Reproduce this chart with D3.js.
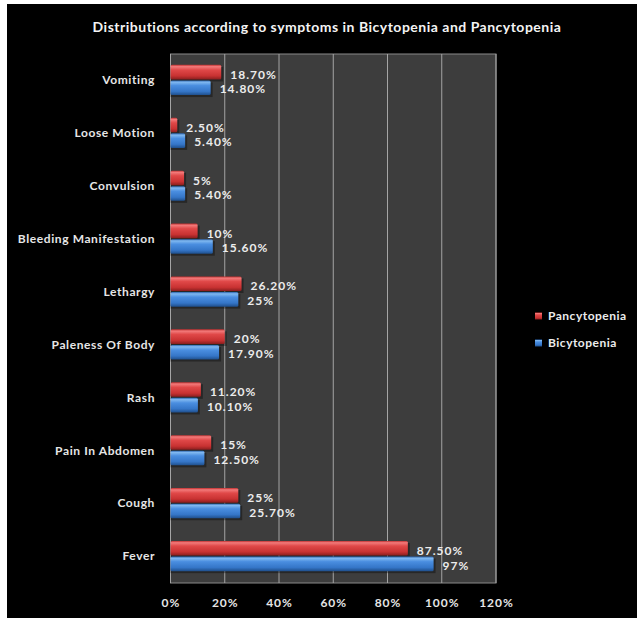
<!DOCTYPE html>
<html><head><meta charset="utf-8">
<script src="https://cdn.jsdelivr.net/npm/d3@7"></script>
<style>
html,body{margin:0;padding:0;background:#fff;}
svg{display:block;}
</style></head>
<body>
<script>
const categories = ["Vomiting","Loose Motion","Convulsion","Bleeding Manifestation","Lethargy","Paleness Of Body","Rash","Pain In Abdomen","Cough","Fever"];
const seriesNames = ["Pancytopenia","Bicytopenia"];
const pancytopenia = [18.7,2.5,5,10,26.2,20,11.2,15,25,87.5];
const bicytopenia = [14.8,5.4,5.4,15.6,25,17.9,10.1,12.5,25.7,97];
const pancyLabels = ["18.70%","2.50%","5%","10%","26.20%","20%","11.20%","15%","25%","87.50%"];
const bicyLabels = ["14.80%","5.40%","5.40%","15.60%","25%","17.90%","10.10%","12.50%","25.70%","97%"];
const xTicks = [0,20,40,60,80,100,120];
const title = "Distributions according to symptoms in Bicytopenia and Pancytopenia";

(function(){
const W=637,H=618;
const svg=d3.select("body").append("svg").attr("width",W).attr("height",H);
const font="Lato, 'Open Sans', sans-serif";

svg.append("rect").attr("width",W).attr("height",H).attr("fill","#fff");
svg.append("rect").attr("x",7).attr("y",4).attr("width",W-7).attr("height",H-4).attr("fill","#000");

const defs=svg.append("defs");
function grad(id,stops){
  const g=defs.append("linearGradient").attr("id",id).attr("x1",0).attr("y1",0).attr("x2",0).attr("y2",1);
  stops.forEach(s=>g.append("stop").attr("offset",s[0]).attr("stop-color",s[1]));
}
grad("gRed",[[0,"#c03030"],[0.12,"#f27a7a"],[0.35,"#e04848"],[0.75,"#c83232"],[1,"#8a1e1e"]]);
grad("gBlue",[[0,"#2c66b0"],[0.12,"#80b8f0"],[0.35,"#4a8ee0"],[0.75,"#3576c8"],[1,"#1f4f8c"]]);

const pL=170.5,pR=496,pT=54,pB=583;
const x=d3.scaleLinear().domain([0,120]).range([pL,pR]);
const y=d3.scaleBand().domain(categories).range([pT,pB]).paddingInner(0.41).paddingOuter(0.205);
const ys=d3.scaleBand().domain(seriesNames).range([0,y.bandwidth()]);

svg.append("rect").attr("x",pL).attr("y",pT).attr("width",pR-pL).attr("height",pB-pT)
  .attr("fill","#3d3d3d").attr("stroke","#8a8a8a").attr("stroke-width",1);

svg.append("g").selectAll("line").data(xTicks).join("line")
  .attr("x1",d=>x(d)).attr("x2",d=>x(d)).attr("y1",pT).attr("y2",pB)
  .attr("stroke","#a5a5a5").attr("stroke-width",1);

const xAxis=d3.axisBottom(x).tickValues(xTicks).tickFormat(d=>d+"%").tickSize(0).tickPadding(0);
const gx=svg.append("g").attr("transform",`translate(0,${pB+15})`).call(xAxis);
gx.select(".domain").remove();
gx.selectAll("text").attr("fill","#e6e6e6").attr("font-family",font).attr("font-weight","bold").attr("font-size","12px").attr("letter-spacing","1px").attr("dy","0.71em");

const yAxis=d3.axisLeft(y).tickSize(0).tickPadding(0);
const gy=svg.append("g").attr("transform",`translate(155,0)`).call(yAxis);
gy.select(".domain").remove();
gy.selectAll("text").attr("fill","#e6e6e6").attr("font-family",font).attr("font-weight","bold").attr("font-size","12px").attr("letter-spacing","0.6px");

const series=[
  {name:"Pancytopenia",vals:pancytopenia,labels:pancyLabels,fill:"url(#gRed)"},
  {name:"Bicytopenia",vals:bicytopenia,labels:bicyLabels,fill:"url(#gBlue)"}
];
const barH=ys.bandwidth();
series.forEach(s=>{
  const g=svg.append("g");
  g.selectAll("rect.sh").data(categories).join("rect").attr("class","sh")
    .attr("x",x(0)).attr("y",(d,i)=>y(d)+ys(s.name)+2)
    .attr("width",(d,i)=>x(s.vals[i])-x(0)+2).attr("height",barH-1)
    .attr("fill","#000").attr("opacity",0.35);
  g.selectAll("rect.b").data(categories).join("rect").attr("class","b")
    .attr("x",x(0)).attr("y",(d,i)=>y(d)+ys(s.name))
    .attr("width",(d,i)=>x(s.vals[i])-x(0)).attr("height",barH-1)
    .attr("rx",1.5)
    .attr("fill",s.fill);
  g.selectAll("text").data(categories).join("text")
    .attr("x",(d,i)=>x(s.vals[i])+9)
    .attr("y",(d,i)=>y(d)+ys(s.name)+barH/2+(s.name==="Pancytopenia"?2:1))
    .attr("dy","0.35em")
    .attr("fill","#ececec").attr("font-family",font).attr("font-weight","bold").attr("font-size","12px").attr("letter-spacing","1px")
    .text((d,i)=>s.labels[i]);
});

svg.append("text").attr("x",327).attr("y",27).attr("text-anchor","middle").attr("dy","0.35em")
  .attr("fill","#f4f4f4").attr("font-family",font).attr("font-weight","bold").attr("font-size","14px").attr("letter-spacing","0.5px")
  .text(title);

const legend=[{name:"Pancytopenia",fill:"url(#gRed)"},{name:"Bicytopenia",fill:"url(#gBlue)"}];
const lg=svg.append("g").selectAll("g").data(legend).join("g")
  .attr("transform",(d,i)=>`translate(535,${316+i*27})`);
lg.append("rect").attr("x",0).attr("y",-3.5).attr("width",7).attr("height",7).attr("fill",d=>d.fill);
lg.append("text").attr("x",13).attr("y",0).attr("dy","0.35em")
  .attr("fill","#ececec").attr("font-family",font).attr("font-weight","bold").attr("font-size","12px").attr("letter-spacing","0.5px")
  .text(d=>d.name);
})();
</script>
</body></html>
